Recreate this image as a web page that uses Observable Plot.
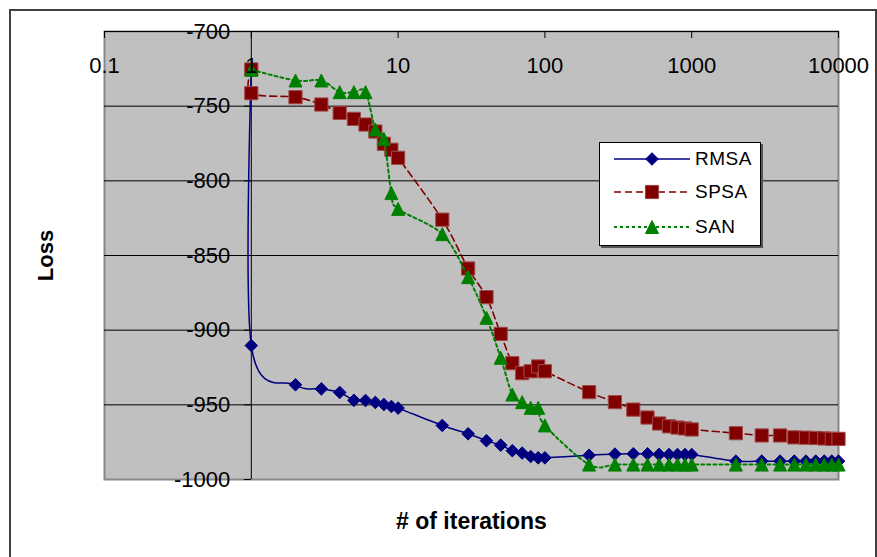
<!DOCTYPE html>
<html>
<head>
<meta charset="utf-8">
<script src="https://cdn.jsdelivr.net/npm/d3@7"></script>
<script src="https://cdn.jsdelivr.net/npm/@observablehq/plot@0.6"></script>
<style>
  body { margin: 0; background: #fff; font-family: "Liberation Sans", Arial, sans-serif; }
  #wrap { position: relative; width: 877px; height: 557px; overflow: hidden; background: #fff; }
  #outer { position: absolute; left: 9px; top: 9px; width: 864px; height: 620px; border: 2px solid #404040; pointer-events: none; }
  #legend { position: absolute; left: 599px; top: 142px; width: 160px; height: 102px; background: #fff; border: 1px solid #000; box-shadow: 2px 2px 0 #555; }
  #legend .sw { position: absolute; left: 14px; width: 76px; height: 20px; }
  #legend .lb { position: absolute; left: 95px; font-size: 19px; line-height: 20px; color: #000; letter-spacing: 0.5px; }
</style>
</head>
<body>
<div id="wrap">
  <div id="chart"></div>
  <div id="outer"></div>
  <div id="legend"></div>
</div>
<script>
// ---- data ----
const seriesNames = ["RMSA", "SPSA", "SAN"];

const rmsaIter = [1, 1, 2, 3, 4, 5, 6, 7, 8, 9, 10, 20, 30, 40, 50, 60, 70, 80, 90, 100,
  200, 300, 400, 500, 600, 700, 800, 900, 1000, 2000, 3000, 4000, 5000, 6000, 7000, 8000, 9000, 10000];
const rmsaLoss = [-726, -910.3, -936.6, -939.3, -941.7, -947.0, -947.1, -948.4, -949.8, -951.1, -952.2, -963.8, -969.4, -974.0, -977.0, -980.7, -982.3, -984.6, -985.5, -985.5,
  -983.8, -983.0, -982.8, -982.8, -983.2, -983.3, -983.3, -983.3, -983.3, -987.7, -987.7, -987.7, -987.7, -987.7, -987.7, -987.7, -987.7, -987.7];

const spsaIter = [1, 1, 2, 3, 4, 5, 6, 7, 8, 9, 10, 20, 30, 40, 50, 60, 70, 80, 90, 100,
  200, 300, 400, 500, 600, 700, 800, 900, 1000, 2000, 3000, 4000, 5000, 6000, 7000, 8000, 9000, 10000];
const spsaLoss = [-725.4, -741.3, -744.0, -748.9, -754.5, -758.5, -762.3, -767.0, -775.2, -779.2, -784.6, -826.0, -858.7, -877.9, -902.5, -922.1, -928.8, -927.5, -924.3, -927.5,
  -941.5, -948.2, -953.2, -958.5, -962.5, -964.4, -965.2, -965.8, -966.5, -969.0, -970.5, -970.5, -971.8, -972.0, -972.2, -972.5, -972.8, -972.8];

const sanIter = [1, 2, 3, 4, 5, 6, 7, 8, 9, 10, 20, 30, 40, 50, 60, 70, 80, 90, 100,
  200, 300, 400, 500, 600, 700, 800, 900, 1000, 2000, 3000, 4000, 5000, 6000, 7000, 8000, 9000, 10000];
const sanLoss = [-725.6, -732.8, -732.8, -740.6, -740.6, -740.6, -765.6, -771.9, -808.2, -818.8, -835.7, -864.5, -891.7, -918.5, -943.1, -948.2, -952.0, -952.0, -963.8,
  -990.0, -990.0, -990.0, -990.0, -990.0, -990.0, -990.0, -990.0, -990.0, -990.0, -990.0, -990.0, -990.0, -990.0, -990.0, -990.0, -990.0, -990.0];

const xTicks = [0.1, 1, 10, 100, 1000, 10000];
const xTickLabels = ["0.1", "1", "10", "100", "1000", "10000"];
const yTicks = [-700, -750, -800, -850, -900, -950, -1000];
const yTickLabels = ["-700", "-750", "-800", "-850", "-900", "-950", "-1000"];
const gridValues = [-750, -800, -850, -900, -950];
const xTitle = "# of iterations";
const yTitle = "Loss";

// ---- symbols ----
const kOf = size => Math.sqrt(size / Math.PI);
const diamondSym = {draw(c, size) { const k = kOf(size); c.moveTo(0, -k); c.lineTo(k, 0); c.lineTo(0, k); c.lineTo(-k, 0); c.closePath(); }};
const squareSym = {draw(c, size) { const k = kOf(size); c.moveTo(-k, -k); c.lineTo(k, -k); c.lineTo(k, k); c.lineTo(-k, k); c.closePath(); }};
const triangleSym = {draw(c, size) { const k = kOf(size); c.moveTo(0, -k); c.lineTo(k, k); c.lineTo(-k, k); c.closePath(); }};

const styles = {
  RMSA: {color: "#000080", dash: null, width: 1.5, symbol: diamondSym, r: 6.3, mstroke: "#000080"},
  SPSA: {color: "#800000", dash: "7,4", width: 1.6, symbol: squareSym, r: 6.6, mstroke: "#a04848"},
  SAN:  {color: "#008000", dash: "3,3", width: 2, symbol: triangleSym, r: 6.5, mstroke: "#008000"}
};

const toRows = (its, vals) => its.map((x, i) => ({x, y: vals[i]}));
const data = {
  RMSA: toRows(rmsaIter, rmsaLoss),
  SPSA: toRows(spsaIter, spsaLoss),
  SAN: toRows(sanIter, sanLoss)
};

const seriesMarks = seriesNames.flatMap(name => {
  const s = styles[name];
  return [
    Plot.line(data[name], {x: "x", y: "y", stroke: s.color, strokeWidth: s.width, strokeDasharray: s.dash, curve: "cardinal"}),
    Plot.dot(data[name], {x: "x", y: "y", symbol: s.symbol, r: s.r, fill: s.color, stroke: s.mstroke, strokeWidth: 1})
  ];
});

const chart = Plot.plot({
  width: 877,
  height: 557,
  marginTop: 31,
  marginLeft: 104,
  marginRight: 39,
  marginBottom: 78,
  style: {fontFamily: "'Liberation Sans', Arial, sans-serif", fontSize: "22px", background: "transparent", overflow: "visible"},
  x: {type: "log", domain: [0.1, 10000], axis: null},
  y: {domain: [-1000, -700], axis: null},
  marks: [
    Plot.frame({fill: "#c0c0c0", stroke: "#888888", strokeWidth: 2}),
    Plot.ruleY(gridValues, {stroke: "#000", strokeWidth: 1}),
    Plot.ruleY([-700], {stroke: "#000", strokeWidth: 1.2}),
    Plot.ruleX([1], {stroke: "#000", strokeWidth: 1}),
    Plot.ruleX(xTicks, {y1: -700, y2: -700, insetBottom: -7, stroke: "#000", strokeWidth: 1}),
    Plot.ruleY(yTicks, {x1: 1, x2: 1, insetLeft: -7, stroke: "#000", strokeWidth: 1}),
    ...seriesMarks,
    Plot.text(xTicks, {x: d => d, text: (d, i) => xTickLabels[i], frameAnchor: "top", dy: 34, fontSize: 22, fill: "#000", lineAnchor: "middle"}),
    Plot.text(yTicks, {x: 1, y: d => d, text: (d, i) => yTickLabels[i], textAnchor: "end", dx: -21, fontSize: 22, fill: "#000", lineAnchor: "middle"}),
    Plot.text([xTitle], {frameAnchor: "bottom", dy: 42, fontSize: 23, fontWeight: "bold", fill: "#000", lineAnchor: "middle", textAnchor: "middle"}),
    Plot.text([yTitle], {frameAnchor: "left", dx: -59, rotate: -90, fontSize: 22, fontWeight: "bold", fill: "#000", lineAnchor: "middle", textAnchor: "middle"})
  ]
});
document.getElementById("chart").appendChild(chart);

// ---- legend ----
const legend = document.getElementById("legend");
const rowCenters = [16, 49, 84];
seriesNames.forEach((name, i) => {
  const s = styles[name];
  const svgNS = "http://www.w3.org/2000/svg";
  const sw = document.createElementNS(svgNS, "svg");
  sw.setAttribute("class", "sw");
  sw.setAttribute("width", 76);
  sw.setAttribute("height", 20);
  sw.style.top = (rowCenters[i] - 10) + "px";
  const ln = document.createElementNS(svgNS, "line");
  ln.setAttribute("x1", 0); ln.setAttribute("x2", 76); ln.setAttribute("y1", 10); ln.setAttribute("y2", 10);
  ln.setAttribute("stroke", s.color); ln.setAttribute("stroke-width", s.width);
  if (s.dash) ln.setAttribute("stroke-dasharray", s.dash);
  sw.appendChild(ln);
  const p = d3.path();
  s.symbol.draw(p, s.r * s.r * Math.PI);
  const mk = document.createElementNS(svgNS, "path");
  mk.setAttribute("d", p.toString());
  mk.setAttribute("transform", "translate(38,10)");
  mk.setAttribute("fill", s.color); mk.setAttribute("stroke", s.mstroke);
  sw.appendChild(mk);
  legend.appendChild(sw);
  const lb = document.createElement("div");
  lb.className = "lb";
  lb.textContent = name;
  lb.style.top = (rowCenters[i] - 10) + "px";
  legend.appendChild(lb);
});
</script>
</body>
</html>
